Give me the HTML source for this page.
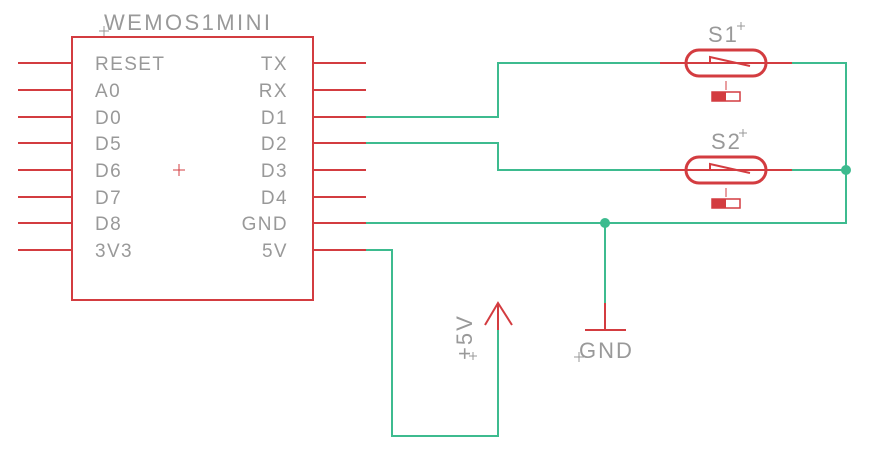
<!DOCTYPE html><html><head><style>body{margin:0;background:#fff}svg{display:block}text{font-family:"Liberation Sans",sans-serif;fill:#999}</style></head><body>
<svg width="873" height="455" viewBox="0 0 873 455">
<g stroke="#d33c40" stroke-width="2" fill="none">
<rect x="72" y="37" width="241" height="263"/>
<path d="M18 63H72M18 90H72M18 117H72M18 143H72M18 170H72M18 197H72M18 223H72M18 250H72M313 63H366M313 90H366M313 117H366M313 143H366M313 170H366M313 197H366M313 223H366M313 250H366"/>
<path d="M660 63H792M660 170H792M498 303V330M485 325L498 303L512 325M605 303V330M585 330H626"/>
<rect x="686" y="50" width="80" height="26" rx="13" stroke-width="3"/>
<rect x="686" y="157" width="80" height="26" rx="13" stroke-width="3"/>
<path d="M710 63V57L750 66M710 170V164L750 173"/>
<rect x="712" y="92" width="28" height="9" stroke-width="1.5"/>
<rect x="712" y="199" width="28" height="9" stroke-width="1.5"/>
<path d="M726 81V90M726 188V197" stroke-width="1"/>
</g>
<rect x="712" y="92" width="14" height="9" fill="#d33c40"/>
<rect x="712" y="199" width="14" height="9" fill="#d33c40"/>
<path d="M173 170H185M179 164V176" stroke="#d33c40" stroke-width="1"/>
<g stroke="#3dbb8f" stroke-width="2" fill="none">
<path d="M366 117H498V63H660M792 63H846V223H366M366 143H498V170H660M792 170H846M605 223V303M366 250H392V436H498V330"/>
</g>
<circle cx="846" cy="170" r="5" fill="#3dbb8f"/><circle cx="605" cy="223" r="5" fill="#3dbb8f"/>
<g font-size="19" letter-spacing="1.4">
<text x="95" y="70">RESET</text><text x="95" y="97">A0</text><text x="95" y="124">D0</text><text x="95" y="150">D5</text><text x="95" y="177">D6</text><text x="95" y="204">D7</text><text x="95" y="230">D8</text><text x="95" y="257">3V3</text>
<g text-anchor="end"><text x="288" y="70">TX</text><text x="288" y="97">RX</text><text x="288" y="124">D1</text><text x="288" y="150">D2</text><text x="288" y="177">D3</text><text x="288" y="204">D4</text><text x="288" y="230">GND</text><text x="288" y="257">5V</text></g>
</g>
<g font-size="22" letter-spacing="2">
<text x="104" y="30" textLength="168">WEMOS1MINI</text>
<text x="708" y="42">S1</text><text x="711" y="149">S2</text>
<text x="579" y="358">GND</text>
<text transform="translate(472,360) rotate(-90)">+5V</text>
</g>
<g stroke="#999" stroke-width="1"><path d="M99 31H109M104 26V36M737 26H745M741 22V30M739 133H747M743 129V137M574 357H584M579 352V362M469 356H477M473 352V360"/></g>
</svg></body></html>
